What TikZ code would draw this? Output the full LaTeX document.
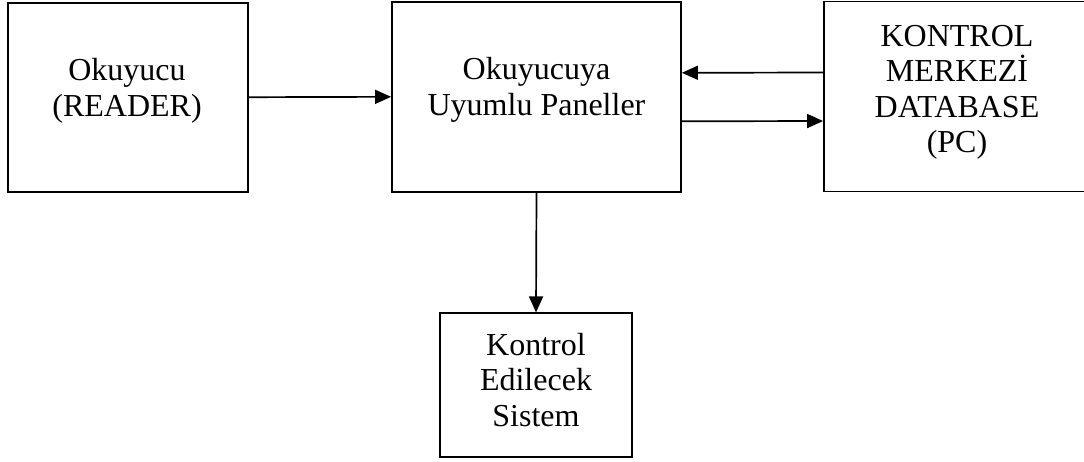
\documentclass[tikz,border=0pt]{standalone}
\usepackage{fontspec}
\setmainfont{Liberation Serif}
\usetikzlibrary{arrows.meta}
\begin{document}
\begin{tikzpicture}[x=1pt,y=-1pt,
  box/.style={draw=black, line width=1.8pt, inner sep=0pt, rectangle},
  lbl/.style={inner sep=0pt, align=center, font=\fontsize{32}{35.5}\selectfont},
  arr/.style={line width=1.7pt, -{Triangle[length=16pt,width=14pt]}}]
\useasboundingbox (0,0) rectangle (1084,461);
\node[box, minimum width=240pt, minimum height=189pt] (b1) at (128,97.2) {};
\node[box, minimum width=289pt, minimum height=190pt] (b2) at (536.5,96.8) {};
\node[box, minimum width=266pt, minimum height=190pt] (b3) at (957,96.5) {};
\node[box, minimum width=192pt, minimum height=143.4pt] (b4) at (536,385) {};
\node[lbl] (t1) at (127,91) {Okuyucu\\(READER)};
\node[lbl] (t2) at (536.5,90) {Okuyucuya\\Uyumlu Paneller};
\node[lbl] (t3) at (957,92.5) {KONTROL\\MERKEZİ\\DATABASE\\(PC)};
\node[lbl] (t4) at (536,380) {Kontrol\\Edilecek\\Sistem};
\draw[arr] (b1.east) -- (b2.west);
\draw[arr] ([yshift=24pt]b3.west) -- ([yshift=24pt]b2.east);
\draw[arr] ([yshift=-24.5pt]b2.east) -- ([yshift=-24.5pt]b3.west);
\draw[arr] (b2.south) -- (b4.north);
\end{tikzpicture}
\end{document}
